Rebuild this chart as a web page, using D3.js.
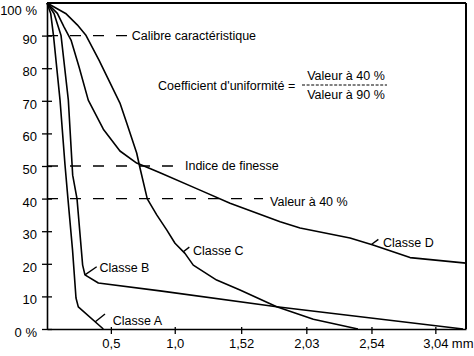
<!DOCTYPE html>
<html>
<head>
<meta charset="utf-8">
<script src="https://cdn.jsdelivr.net/npm/d3@7"></script>
<style>
  html, body { margin: 0; padding: 0; background: #fff; }
  svg { display: block; }
  text { font-family: "Liberation Sans", Arial, Helvetica, sans-serif; fill: #000; }
</style>
</head>
<body>
<svg id="chart" width="474" height="356"></svg>
<script>
// ---- data (x in mm, y in % passing) ----
const xTicks = [0.5, 1.0, 1.52, 2.03, 2.54, 3.04];
const xTickLabels = ["0,5", "1,0", "1,52", "2,03", "2,54", "3,04"];
const yTicks = [0, 10, 20, 30, 40, 50, 60, 70, 80, 90, 100];
const yTickLabels = ["0 %", "10", "20", "30", "40", "50", "60", "70", "80", "90", "100 %"];

const classeA = [[0,100],[0.029,96.8],[0.051,89.9],[0.102,70.2],[0.141,50.3],[0.164,39.9],[0.2,24.2],[0.227,9.5],[0.245,6.8],[0.441,0]];
const classeB = [[0,100],[0.055,96.8],[0.11,90],[0.167,70.2],[0.201,47.2],[0.235,39.9],[0.279,19.6],[0.297,16.6],[0.402,14.1],[0.885,11.7],[1.798,6.8],[3.257,0]];
const classeC = [[0,100],[0.146,96.8],[0.237,93.3],[0.303,90.2],[0.407,82.5],[0.571,69.3],[0.624,63.2],[0.702,54.0],[0.728,49.4],[0.785,39.9],[0.859,35.0],[0.937,30.4],[1.002,26.3],[1.08,23.2],[1.145,19.6],[1.328,15.0],[1.511,11.96],[1.798,6.8],[2.085,3.0],[2.434,0]];
const classeD = [[0,100],[0.081,96.8],[0.133,92.7],[0.188,88.65],[0.251,80.4],[0.323,70.2],[0.441,61.3],[0.571,54.6],[0.702,50.9],[0.806,49.2],[0.885,47.9],[1.198,42.6],[1.433,38.6],[1.825,32.9],[1.981,31.0],[2.372,27.9],[2.552,25.8],[2.842,21.9],[3.28,20.2]];

const seriesNames = ["Classe A", "Classe B", "Classe C", "Classe D"];
// label anchor (data coords) and leader line (data coords)
const labelPos = [[0.515, 1.2], [0.41, 17.6], [1.142, 22.7], [2.63, 25.3]];
const leaders = [[[0.376, 2.15], [0.454, 4.6]], [[0.297, 16.6], [0.389, 19.1]], [[1.067, 23.7], [1.114, 25.1]], [[2.542, 26.0], [2.594, 27.5]]];

const refValues = [90, 50, 40];
const refEnds = [0.628, 0.986, 1.691];
const refLabels = ["Calibre caractéristique", "Indice de finesse", "Valeur à 40 %"];
const refLabelX = [0.663, 1.08, 1.746];

const formulaLeft = "Coefficient d'uniformité =";
const formulaTop = "Valeur à 40 %";
const formulaBottom = "Valeur à 90 %";
const xUnit = "mm";

// ---- drawing ----
const svg = d3.select("#chart");
const x = d3.scaleLinear().domain([0, 3.28]).range([47, 466]);
const y = d3.scaleLinear().domain([0, 100]).range([329, 3]);

// frame: top and right border
svg.append("line").attr("x1", x(0)).attr("x2", x(3.28)).attr("y1", y(100)).attr("y2", y(100))
  .attr("stroke", "#000").attr("stroke-width", 2);
svg.append("line").attr("x1", x(3.28)).attr("x2", x(3.28)).attr("y1", y(100)).attr("y2", y(0))
  .attr("stroke", "#000").attr("stroke-width", 2);

// axes
const xAxis = d3.axisBottom(x).tickValues(xTicks).tickFormat((d, i) => xTickLabels[i]).tickSizeOuter(0).tickSizeInner(6).tickPadding(8);
const gx = svg.append("g").attr("transform", `translate(0,${y(0)})`).call(xAxis);
gx.select(".domain").attr("stroke-width", 1.6);
gx.selectAll(".tick line").attr("stroke-width", 1.3).attr("y1", -2).attr("y2", 5);
gx.selectAll(".tick text").attr("font-size", 13).attr("font-family", "Liberation Sans, Arial, sans-serif").attr("dy", null).attr("y", 19);
// unit after last label
gx.append("text").attr("x", x(3.04) + 16.5).attr("y", 19).attr("font-size", 13)
  .attr("text-anchor", "start").text(xUnit);

const yAxis = d3.axisLeft(y).tickValues(yTicks).tickFormat((d, i) => yTickLabels[i]).tickSizeOuter(0).tickSizeInner(5).tickPadding(6);
const gy = svg.append("g").attr("transform", `translate(${x(0)},0)`).call(yAxis);
gy.select(".domain").attr("stroke-width", 1.6);
gy.selectAll(".tick line").attr("stroke-width", 1.3).attr("x1", 5).attr("x2", -5);
gy.selectAll(".tick text").attr("font-size", 13).attr("font-family", "Liberation Sans, Arial, sans-serif")
  .attr("x", -10).attr("dy", d => d === 100 ? "11.5" : "7.5");
gy.selectAll(".tick").filter(d => d === 100).select("line").remove();

// reference dashed lines
refValues.forEach((v, i) => {
  svg.append("line").attr("x1", x(0)).attr("x2", x(refEnds[i])).attr("y1", y(v)).attr("y2", y(v))
    .attr("stroke", "#000").attr("stroke-width", 1.3).attr("stroke-dasharray", "11,12");
  svg.append("text").attr("x", x(refLabelX[i])).attr("y", y(v) + (i === 2 ? 7.5 : 4.2))
    .attr("font-size", 12.5).text(refLabels[i]);
});

// formula
svg.append("text").attr("x", 158).attr("y", 89.5).attr("font-size", 12.5).text(formulaLeft);
svg.append("text").attr("x", 346).attr("y", 79.5).attr("font-size", 12.5).attr("text-anchor", "middle").text(formulaTop);
svg.append("text").attr("x", 346).attr("y", 98.5).attr("font-size", 12.5).attr("text-anchor", "middle").text(formulaBottom);
svg.append("line").attr("x1", 302).attr("x2", 387).attr("y1", 85).attr("y2", 85)
  .attr("stroke", "#000").attr("stroke-width", 1).attr("stroke-dasharray", "3,1.6");

// curves
const line = d3.line().x(d => x(d[0])).y(d => y(d[1]));
[classeA, classeB, classeC, classeD].forEach(s => {
  svg.append("path").datum(s).attr("d", line).attr("fill", "none")
    .attr("stroke", "#000").attr("stroke-width", 1.6).attr("stroke-linejoin", "round");
});

// class labels
seriesNames.forEach((n, i) => {
  svg.append("line").attr("x1", x(leaders[i][0][0])).attr("y1", y(leaders[i][0][1]))
    .attr("x2", x(leaders[i][1][0])).attr("y2", y(leaders[i][1][1]))
    .attr("stroke", "#000").attr("stroke-width", 1.4);
  svg.append("text").attr("x", x(labelPos[i][0])).attr("y", y(labelPos[i][1])).attr("font-size", 12.5).text(n);
});
</script>
</body>
</html>
